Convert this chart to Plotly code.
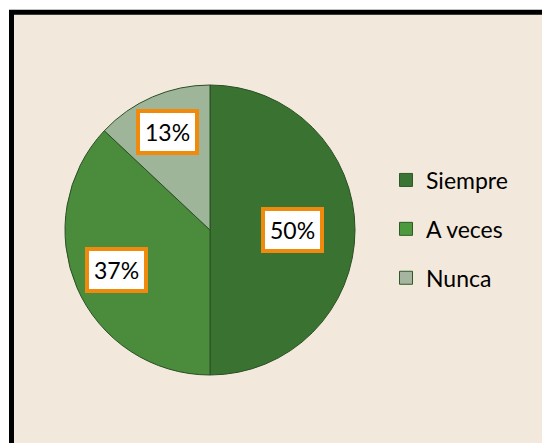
import math
import plotly.graph_objects as go

categories = ["Siempre", "A veces", "Nunca"]
values = [50, 37, 13]
text_labels = ["50%", "37%", "13%"]

slice_colors = ["#3A7331", "#4A8C3C", "#9FB59A"]
legend_colors = ["#3B7533", "#4C993E", "#A5B5A0"]
label_radius_frac = [0.57, 0.70, 0.74]

OFF = 8  # page body margin
W, H = 542, 435


def fx(px):
    return (px - OFF) / W


def fy(py):
    return 1 - (py - OFF) / H


dom_x = [fx(65), fx(355)]
dom_y = [fy(375), fy(85)]

fig = go.Figure()
fig.add_trace(go.Pie(
    labels=categories, values=values, sort=False, direction="clockwise", rotation=0,
    marker=dict(colors=slice_colors, line=dict(color="#2A4F24", width=1)),
    textinfo="none", hoverinfo="label+percent", showlegend=False,
    domain=dict(x=dom_x, y=dom_y),
))

for i, (c, col) in enumerate(zip(categories, legend_colors)):
    fig.add_trace(go.Scatter(
        x=[None], y=[None], mode="markers", name=c, legendgroup=c,
        marker=dict(symbol="square", size=13, color=col, line=dict(color="#2E5A28", width=1)),
    ))

# label positions derived from slice angles
cx = (dom_x[0] + dom_x[1]) / 2
cy = (dom_y[0] + dom_y[1]) / 2
Rx = (dom_x[1] - dom_x[0]) / 2
Ry = (dom_y[1] - dom_y[0]) / 2
total = sum(values)
cum = 0
annotations = []
for v, t, f in zip(values, text_labels, label_radius_frac):
    a = 2 * math.pi * (cum + v / 2) / total
    cum += v
    annotations.append(dict(
        x=cx + Rx * f * math.sin(a), y=cy + Ry * f * math.cos(a),
        xref="paper", yref="paper", text=t, showarrow=False,
        font=dict(family="Lato, Liberation Sans, sans-serif", size=23, color="#000000"),
        bgcolor="#FFFFFF", bordercolor="#F08A0C", borderwidth=4, borderpad=5,
        xanchor="center", yanchor="middle",
    ))

fig.update_layout(
    width=W, height=H, margin=dict(l=0, r=0, t=0, b=0),
    paper_bgcolor="#FFFFFF", plot_bgcolor="rgba(0,0,0,0)",
    xaxis=dict(visible=False), yaxis=dict(visible=False),
    shapes=[dict(type="rect", xref="paper", yref="paper",
                 x0=fx(11.5), x1=1.05, y0=-0.05, y1=fy(12.3),
                 fillcolor="#F2E9DC", line=dict(color="#000000", width=5), layer="below")],
    annotations=annotations,
    legend=dict(x=fx(386), xanchor="left", y=fy(229), yanchor="middle",
                font=dict(family="Lato, Liberation Sans, sans-serif", size=23, color="#000000"),
                bgcolor="rgba(0,0,0,0)", tracegroupgap=16, itemwidth=30),
)

fig.write_html("out.html")
